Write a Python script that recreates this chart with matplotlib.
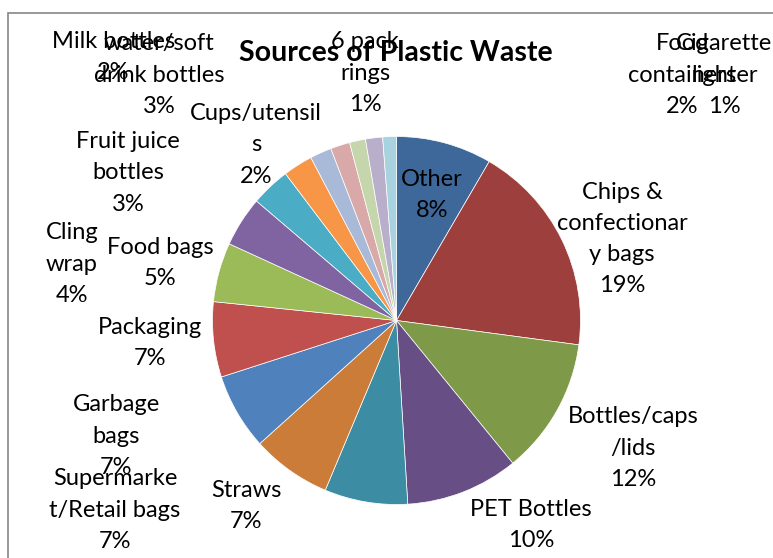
import matplotlib
matplotlib.use("Agg")
import matplotlib.pyplot as plt
from matplotlib.patches import Rectangle

# ---- data ----
categories = ["Other", "Chips & confectionary bags", "Bottles/caps/lids", "PET Bottles",
              "Straws", "Supermarket/Retail bags", "Garbage bags", "Packaging",
              "Food bags", "Cling wrap", "Fruit juice bottles", "water/soft drink bottles",
              "Milk bottles", "Cups/utensils", "6 pack rings", "Food containers",
              "Cigarette lighter"]
values = [8.4, 18.7, 12.0, 9.9, 7.3, 7.0, 6.7, 6.6, 5.2, 4.4, 3.45, 2.6, 1.9, 1.7, 1.4, 1.5, 1.2]
wrapped_names = ["Other", "Chips &\nconfectionar\ny bags", "Bottles/caps\n/lids", "PET Bottles",
                 "Straws", "Supermarke\nt/Retail bags", "Garbage\nbags", "Packaging",
                 "Food bags", "Cling\nwrap", "Fruit juice\nbottles", "water/soft\ndrink bottles",
                 "Milk bottles", "Cups/utensil\ns", "6 pack\nrings", "Food\ncontainers",
                 "Cigarette\nlighter"]
title = "Sources of Plastic Waste"

# ---- style ----
colors = ["#3F689A", "#9D403D", "#7E9A48", "#674E85", "#3C8DA3", "#CB7C38",
          "#4F81BD", "#C0504D", "#9BBB59", "#8064A2", "#4BACC6", "#F79646",
          "#A9B9D8", "#D8A9A8", "#C6D6AC", "#B9AFCB", "#A8D2DF"]
# label centre positions in pie units (radius = 1)
label_pos = [(0.193, 0.682), (1.226, 0.443), (1.285, -0.693), (0.731, -1.111),
             (-0.818, -1.008), (-1.530, -1.030), (-1.524, -0.628), (-1.340, -0.122),
             (-1.285, 0.3125), (-1.764, 0.307), (-1.459, 0.802), (-1.291, 1.334),
             (-1.540, 1.432), (-0.764, 0.954), (-0.171, 1.345), (1.552, 1.334),
             (1.780, 1.334)]

W, H = 773, 558
fig = plt.figure(figsize=(W / 100, H / 100), dpi=100)
fig.patch.set_facecolor("white")

# chart border (extends past right/bottom edge)
fig.add_artist(Rectangle((8 / W, -0.05), 1.1, 1 - 13.5 / H + 0.05, transform=fig.transFigure,
                         fill=False, edgecolor="#868686", linewidth=1.2))

cx, cy, r = 396.5, 320.5, 184
ax = fig.add_axes([(cx - r) / W, (H - cy - r) / H, 2 * r / W, 2 * r / H])
ax.pie(values, colors=colors, startangle=90, counterclock=False,
       wedgeprops=dict(edgecolor="white", linewidth=0.5))
ax.set_xlim(-1, 1)
ax.set_ylim(-1, 1)
ax.set_aspect("equal")
ax.axis("off")

total = sum(values)
font = ["Lato", "DejaVu Sans"]
for name, v, (lx, ly) in zip(wrapped_names, values, label_pos):
    pct = round(v / total * 100)
    ax.text(lx, ly, f"{name}\n{pct}%", ha="center", va="center", multialignment="center",
            fontsize=17, family=font, color="black", linespacing=1.6, clip_on=False)

fig.text(396 / W, 1 - 53 / H, title, ha="center", va="center", fontsize=20.5,
         fontweight="bold", family=font, color="black")

fig.savefig("out.png", dpi=100)
